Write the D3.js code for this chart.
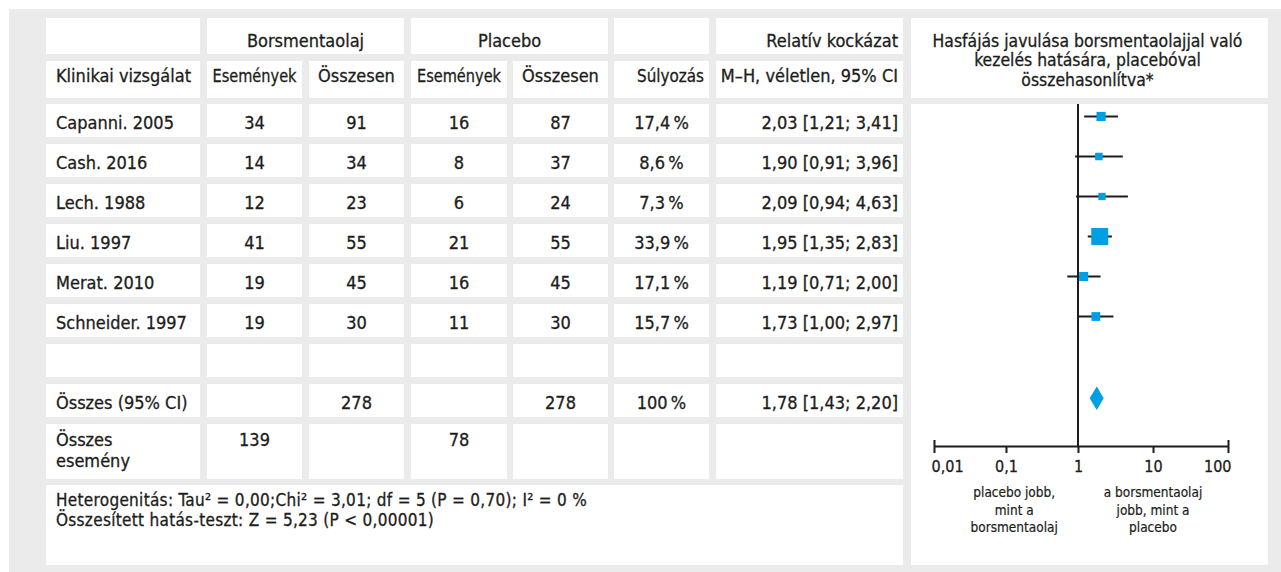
<!DOCTYPE html>
<html><head><meta charset="utf-8">
<script src="https://cdn.jsdelivr.net/npm/d3@7"></script>
<style>
html,body{margin:0;padding:0;background:#fff;}
svg{display:block;}
text{font-family:"DejaVu Sans Condensed","DejaVu Sans",sans-serif;fill:#1d1d1b;stroke:#1d1d1b;stroke-width:0.3px;}
</style></head>
<body>
<svg id="chart" width="1281" height="572"></svg>
<script>
// ---------- data ----------
const studies = ["Capanni. 2005","Cash. 2016","Lech. 1988","Liu. 1997","Merat. 2010","Schneider. 1997"];
const mentolEvents = [34,14,12,41,19,19];
const mentolTotal = [91,34,23,55,45,30];
const placeboEvents = [16,8,6,21,16,11];
const placeboTotal = [87,37,24,55,45,30];
const weights = [17.4,8.6,7.3,33.9,17.1,15.7];
const rr = [2.03,1.90,2.09,1.95,1.19,1.73];
const ciLow = [1.21,0.91,0.94,1.35,0.71,1.00];
const ciHigh = [3.41,3.96,4.63,2.83,2.00,2.97];
const pooled = [1.78,1.43,2.20];        // RR, low, high
const pooledTotals = [278,278];          // borsmentaolaj, placebo
const pooledEvents = [139,78];           // borsmentaolaj, placebo
const pooledWeight = 100;
const axisTicks = [0.01,0.1,1,10,100];
const tickLabels = ["0,01","0,1","1","10","100"];
const headerGroups = ["Borsmentaolaj","Placebo","Relatív kockázat"];
const headerCols = ["Klinikai vizsgálat","Események","Összesen","Események","Összesen","Súlyozás","M–H, véletlen, 95% CI"];
const forestTitle = ["Hasfájás javulása borsmentaolajjal való","kezelés hatására, placebóval","összehasonlítva*"];
const leftNote = ["placebo jobb,","mint a","borsmentaolaj"];
const rightNote = ["a borsmentaolaj","jobb, mint a","placebo"];
const footer = ["Heterogenitás: Tau² = 0,00;Chi² = 3,01; df = 5 (P = 0,70); I² = 0 %","Összesített hatás-teszt: Z = 5,23 (P < 0,00001)"];
const totalLabel = "Összes (95% CI)";
const eventsLabel = ["Összes","esemény"];

// ---------- helpers ----------
const loc = d3.formatLocale({decimal:",",thousands:" ",grouping:[3],currency:["",""]});
const f2 = loc.format(".2f"), f1 = loc.format(".1f");
const rrText = (a,b,c)=>`${f2(a)} [${f2(b)}; ${f2(c)}]`;
const pct = w => (Number.isInteger(w)? String(w) : f1(w)) + "\u2009%";

const svg = d3.select("#chart");
const GRAY = "#ebebeb", BLUE = "#009fe3", INK = "#1d1d1b";

// layout
const cols = [[46,200],[207,302],[309,404],[411,507],[513,608],[614,709],[716,903]];
const forestX = [911,1268];
const rowTop = i => 104 + i*40;   // data rows
const rowH = 33;

svg.append("rect").attr("x",9).attr("y",9).attr("width",1272).attr("height",563).attr("fill",GRAY);

function cell(x0,x1,y0,y1){
  svg.append("rect").attr("x",x0).attr("y",y0).attr("width",x1-x0).attr("height",y1-y0).attr("fill","#fff");
}
function txt(s,x,y,anchor,size){
  return svg.append("text").attr("x",x).attr("y",y).attr("text-anchor",anchor||"start")
    .attr("font-size",size||18).text(s);
}

// header row 1
cell(cols[0][0],cols[0][1],18,54);
cell(cols[1][0],cols[2][1],18,54);
cell(cols[3][0],cols[4][1],18,54);
cell(cols[5][0],cols[5][1],18,54);
cell(cols[6][0],cols[6][1],18,54);
txt(headerGroups[0],(cols[1][0]+cols[2][1])/2,46.5,"middle");
txt(headerGroups[1],(cols[3][0]+cols[4][1])/2,46.5,"middle");
txt(headerGroups[2],cols[6][1]-5,46.5,"end");

// header row 2
cols.forEach((c,i)=>{
  cell(c[0],c[1],61,98);
  const y=81.5;
  let t;
  if(i===0) t=txt(headerCols[i],c[0]+10,y,"start");
  else if(i>=5) t=txt(headerCols[i],c[1]-5,y,"end");
  else t=txt(headerCols[i],(c[0]+c[1])/2,y,"middle");
  if(i===1||i===3) t.attr("textLength",84).attr("lengthAdjust","spacingAndGlyphs");
  if(i===5) t.attr("textLength",67).attr("lengthAdjust","spacingAndGlyphs");
});

const mid = i => (cols[i][0]+cols[i][1])/2;

// study rows
studies.forEach((s,r)=>{
  const y0=rowTop(r);
  cols.forEach(c=>cell(c[0],c[1],y0,y0+rowH));
  const by=y0+24.5;
  txt(s,cols[0][0]+10,by);
  txt(mentolEvents[r],mid(1),by,"middle");
  txt(mentolTotal[r],mid(2),by,"middle");
  txt(placeboEvents[r],mid(3),by,"middle");
  txt(placeboTotal[r],mid(4),by,"middle");
  txt(pct(weights[r]),mid(5),by,"middle");
  txt(rrText(rr[r],ciLow[r],ciHigh[r]),cols[6][1]-5,by,"end");
});

// empty row
{ const y0=rowTop(6); cols.forEach(c=>cell(c[0],c[1],y0,y0+rowH)); }
// total row
{ const y0=rowTop(7); cols.forEach(c=>cell(c[0],c[1],y0,y0+rowH));
  const by=y0+25;
  txt(totalLabel,cols[0][0]+10,by);
  txt(pooledTotals[0],mid(2),by,"middle");
  txt(pooledTotals[1],mid(4),by,"middle");
  txt(pct(pooledWeight),mid(5),by,"middle");
  txt(rrText(pooled[0],pooled[1],pooled[2]),cols[6][1]-5,by,"end");
}
// events row
{ const y0=rowTop(8); cols.forEach(c=>cell(c[0],c[1],y0,y0+55));
  txt(eventsLabel[0],cols[0][0]+10,y0+22);
  txt(eventsLabel[1],cols[0][0]+10,y0+43);
  txt(pooledEvents[0],mid(1),y0+22,"middle");
  txt(pooledEvents[1],mid(3),y0+22,"middle");
}
// footer
cell(cols[0][0],cols[6][1],485,565);
footer.forEach((l,i)=>txt(l,cols[0][0]+10,506+i*20,"start",17).attr("letter-spacing",0.3));

// forest panel
cell(forestX[0],forestX[1],18,98);
cell(forestX[0],forestX[1],104,565);
forestTitle.forEach((l,i)=>txt(l,(forestX[0]+forestX[1])/2-2,46.7+i*19.7,"middle",17.4));

const x = d3.scaleLog().domain([0.01,1,100]).range([934,1078,1228]);
const size = d3.scaleLinear().domain([0,17,34]).range([6,9,17]);
const axisY = 446;

const g = svg.append("g");
// reference line at 1
g.append("line").attr("x1",x(1)).attr("x2",x(1)).attr("y1",104).attr("y2",axisY)
  .attr("stroke",INK).attr("stroke-width",2);

const marks = g.selectAll("g.study").data(studies.map((s,i)=>({i}))).join("g").attr("class","study");
marks.append("line")
  .attr("x1",d=>x(ciLow[d.i])).attr("x2",d=>x(ciHigh[d.i]))
  .attr("y1",d=>rowTop(d.i)+12.5).attr("y2",d=>rowTop(d.i)+12.5)
  .attr("stroke",INK).attr("stroke-width",2);
marks.append("rect")
  .attr("x",d=>x(rr[d.i])-size(weights[d.i])/2)
  .attr("y",d=>rowTop(d.i)+12.5-size(weights[d.i])/2)
  .attr("width",d=>size(weights[d.i])).attr("height",d=>size(weights[d.i]))
  .attr("fill",BLUE);

// pooled diamond
{ const cy=rowTop(7)+14.3, h=11.7;
  g.append("path").attr("fill",BLUE)
   .attr("d",`M${x(pooled[1])},${cy}L${x(pooled[0])},${cy-h}L${x(pooled[2])},${cy}L${x(pooled[0])},${cy+h}Z`);
}

// axis
const ax = svg.append("g").attr("transform",`translate(0,${axisY})`)
  .call(d3.axisBottom(x).tickValues(axisTicks).tickFormat((d,i)=>tickLabels[i]).tickSize(7).tickSizeOuter(0).tickPadding(8));
ax.select(".domain").attr("stroke",INK).attr("stroke-width",2);
ax.selectAll(".tick line").attr("stroke",INK).attr("stroke-width",2);
ax.selectAll(".tick text").attr("font-size",16).attr("fill",INK)
  .style("font-family",'"DejaVu Sans Condensed","DejaVu Sans",sans-serif');
const tks = ax.selectAll(".tick").nodes();
d3.select(tks[0]).select("line").attr("y1",-6);
d3.select(tks[tks.length-1]).select("line").attr("y1",-6);
d3.select(tks[0]).select("text").attr("text-anchor","start").attr("dx",-3);
d3.select(tks[tks.length-1]).select("text").attr("text-anchor","end").attr("dx",3);

// direction notes
leftNote.forEach((l,i)=>txt(l,x(0.13),497+i*17.7,"middle",13.5).style("stroke-width","0.2px"));
rightNote.forEach((l,i)=>txt(l,x(10),497+i*17.7,"middle",13.5).style("stroke-width","0.2px"));
</script>
</body></html>
